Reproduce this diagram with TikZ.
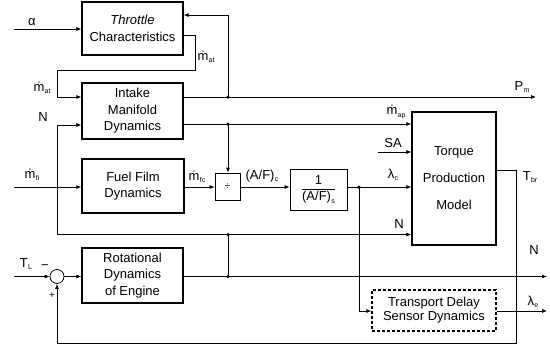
\documentclass[tikz,border=0pt]{standalone}
\usepackage{fontspec}
\setmainfont{Liberation Sans}
\usetikzlibrary{arrows.meta,calc}
\newcommand\mdt[1]{ṁ\kern0.3pt\raisebox{-2.5pt}{\fontsize{7}{8}\selectfont #1}}
\newcommand\subs[1]{\kern0.3pt\raisebox{-2.5pt}{\fontsize{7}{8}\selectfont #1}}
\begin{document}
\begin{tikzpicture}[x=1pt,y=-1pt,
  every node/.style={font=\fontsize{13}{16.5}\selectfont, inner sep=0pt},
  blk/.style={draw, line width=1.3pt, align=center},
  thinblk/.style={draw, line width=0.8pt, align=center},
  con/.style={line width=0.7pt},
  arr/.style={con, -{Latex[length=5pt,width=4pt]}},
  jdot/.style={circle, fill, inner sep=0pt, minimum size=3.5pt}]
\useasboundingbox (0,0) rectangle (550,349);

% blocks
\node[blk, minimum width=101pt, minimum height=53pt] (thr) at (132.5,28.5) {\textit{Throttle}\\Characteristics};
\node[blk, minimum width=101pt, minimum height=56pt] (man) at (132.5,111) {Intake\\Manifold\\Dynamics};
\node[blk, minimum width=102pt, minimum height=54pt] (fuel) at (133,186) {Fuel Film\\Dynamics};
\node[blk, minimum width=101pt, minimum height=55pt] (rot) at (132.5,275.5) {Rotational\\Dynamics\\of Engine};
\node[thinblk, minimum width=25pt, minimum height=27pt, font=\fontsize{10}{12}\selectfont] (div) at (227.5,186.5) {÷};
\node[thinblk, minimum width=57pt, minimum height=41pt] (inv) at (318.5,189.5) {$\displaystyle\frac{\mbox{1}}{\mbox{(A/F)\subs{s}}}$};
\node[blk, minimum width=84pt, minimum height=133pt, font=\fontsize{13}{27}\selectfont] (tq) at (454,178.5) {Torque\\Production\\Model};
\node[draw, line width=1.3pt, dash pattern=on 3pt off 2pt, minimum width=124pt, minimum height=41pt, align=center, font=\fontsize{13}{14}\selectfont] (tr) at (434,310.5) {Transport Delay\\Sensor Dynamics};
\node[circle, draw, line width=0.8pt, minimum size=14pt] (sum) at (57,276.5) {};

% alpha input
\coordinate (aIn) at (14,29);
\draw[arr] (aIn) -- (aIn -| thr.west);

% throttle output to manifold
\coordinate (c1) at (195,35); \coordinate (c2) at (195,70);
\coordinate (c3) at (57,70); \coordinate (c4) at (57,97);
\draw[arr] (c1 -| thr.east) -- (c1) -- (c2) -- (c3) -- (c4) -- (c4 -| man.west);

% Pm output and feedback to throttle
\coordinate (pm) at (536,97);
\draw[arr] (pm -| man.east) -- (pm);
\coordinate (j1) at (228,97); \coordinate (c5) at (228,15);
\draw[arr] (j1) -- (c5) -- (c5 -| thr.east);
\node[jdot] (d1) at (j1) {};

% mdot_ap
\coordinate (j2) at (228,124);
\draw[arr] (j2 -| man.east) -- (j2 -| tq.west);
\draw[arr] (j2) -- (j2 |- div.north);
\node[jdot] (d2) at (j2) {};

% fuel path
\coordinate (fi) at (14,187);
\draw[arr] (fi) -- (fi -| fuel.west);
\draw[arr] (fi -| fuel.east) -- (fi -| div.west);
\draw[arr] (fi -| div.east) -- (fi -| inv.west);
\draw[arr] (fi -| inv.east) -- (fi -| tq.west);
\coordinate (j3) at (359,187); \coordinate (c6) at (359,311);
\draw[arr] (j3) -- (c6) -- (c6 -| tr.west);
\node[jdot] (d3) at (j3) {};

% SA
\coordinate (sa) at (378,152);
\draw[arr] (sa) -- (sa -| tq.west);

% N output and feedback
\coordinate (nO) at (547,276.5);
\draw[arr] (nO -| rot.east) -- (nO);
\coordinate (j4) at (228,276.5); \coordinate (j5) at (228,234.5);
\draw[con] (j4) -- (j5);
\coordinate (c7) at (57,234.5); \coordinate (c8) at (57,125);
\draw[arr] (j5) -- (j5 -| tq.west);
\draw[arr] (j5) -- (c7) -- (c8) -- (c8 -| man.west);
\node[jdot] (d4) at (j4) {};
\node[jdot] (d5) at (j5) {};

% Tbr feedback to summing junction
\coordinate (c9) at (516,170); \coordinate (c10) at (516,343); \coordinate (c11) at (57,343);
\draw[arr] (c9 -| tq.east) -- (c9) -- (c10) -- (c11) -- (sum.south);

% TL input, sum to rotational
\coordinate (tl) at (14,276.5);
\draw[arr] (tl) -- (sum.west);
\draw[arr] (sum.east) -- (sum.east -| rot.west);

% lambda_e output
\coordinate (le) at (547,311);
\draw[arr] (le -| tr.east) -- (le);

% labels
\node (lA) at (32,22) {α};
\node (lMat1) at (206,57) {\mdt{at}};
\node (lMat2) at (42,88) {\mdt{at}};
\node (lN1) at (43,117) {N};
\node (lMfi) at (32,175) {\mdt{fi}};
\node (lMfc) at (197,177) {\mdt{fc}};
\node (lAFc) at (262,176) {(A/F)\subs{c}};
\node (lMap) at (396,112) {\mdt{ap}};
\node (lSA) at (393,143) {SA};
\node (lLc) at (393,175) {λ\subs{c}};
\node (lN2) at (399,224) {N};
\node (lTbr) at (530,177) {T\subs{br}};
\node (lPm) at (522,87) {P\subs{m}};
\node (lN3) at (534,250) {N};
\node (lLe) at (533,302) {λ\subs{e}};
\node (lTL) at (26,264) {T\subs{L}};
\node (lMinus) at (45,267) {−};
\node (lPlus) at (52,296) {\fontsize{10}{12}\selectfont +};
\end{tikzpicture}
\end{document}
